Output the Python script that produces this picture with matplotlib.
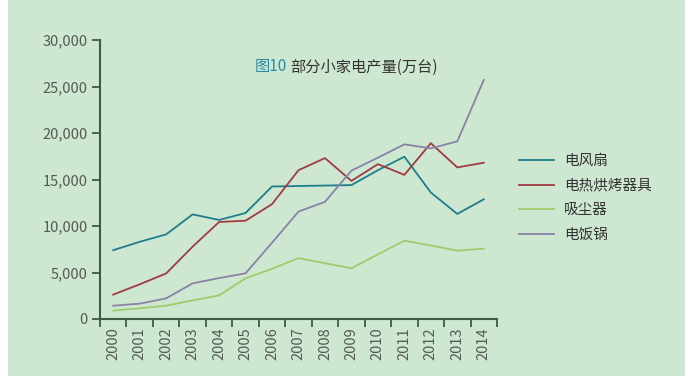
import matplotlib.pyplot as plt
from matplotlib.patches import Rectangle
from matplotlib.ticker import FuncFormatter, FixedLocator

plt.rcParams['font.family'] = ['Noto Sans CJK SC', 'DejaVu Sans']

# Data (万台)
years = [str(y) for y in range(2000, 2015)]
fan = [7400, 8300, 9100, 11250, 10650, 11400, 14250, 14300, 14350, 14400, 16000, 17450, 13600, 11300, 12870]
oven = [2620, 3730, 4900, 7780, 10430, 10570, 12350, 16000, 17300, 14850, 16650, 15500, 18900, 16300, 16800]
vacuum = [900, 1150, 1430, 2000, 2540, 4370, 5400, 6550, 6000, 5450, 6950, 8420, 7900, 7350, 7560]
cooker = [1430, 1650, 2220, 3830, 4400, 4910, 8200, 11550, 12600, 15950, 17350, 18780, 18350, 19100, 25700]

series_names = ['电风扇', '电热烘烤器具', '吸尘器', '电饭锅']
series_colors = ['#1f7d8c', '#a23a42', '#9fcc6b', '#8a82a6']

bg = '#cde7d0'
axis_color = '#3e5a40'
text_color = '#555a55'

fig = plt.figure(figsize=(6.96, 3.8), dpi=100)
fig.patch.set_facecolor('white')
fig.patches.append(Rectangle((8 / 696, 4 / 380), 677 / 696, 376 / 380,
                             transform=fig.transFigure, facecolor=bg,
                             edgecolor='none', zorder=-10))

ax = fig.add_axes([100 / 696, 61 / 380, 397 / 696, 279 / 380])
ax.set_facecolor('none')

x = list(range(len(years)))
for vals, name, col in zip([fan, oven, vacuum, cooker], series_names, series_colors):
    ax.plot(x, vals, color=col, lw=1.3, label=name)

ax.set_xlim(-0.5, len(years) - 0.5)
ax.set_ylim(0, 30000)

# ticks at category boundaries, labels at centres
ax.xaxis.set_major_locator(FixedLocator([i - 0.5 for i in range(len(years) + 1)]))
ax.xaxis.set_minor_locator(FixedLocator(x))
ax.set_xticklabels([''] * (len(years) + 1))
ax.set_xticklabels(years, minor=True, rotation=90)
ax.tick_params(axis='x', which='major', direction='out', length=6, width=1.3, color=axis_color)
ax.tick_params(axis='x', which='minor', length=0, pad=6, labelsize=10.5, labelcolor=text_color)

ax.set_yticks(range(0, 30001, 5000))
ax.yaxis.set_major_formatter(FuncFormatter(lambda v, p: f'{int(v):,}'))
ax.tick_params(axis='y', direction='out', length=6, width=1.3, color=axis_color,
               labelsize=10.5, labelcolor=text_color, pad=3)

for side in ['top', 'right']:
    ax.spines[side].set_visible(False)
for side in ['left', 'bottom']:
    ax.spines[side].set_color(axis_color)
    ax.spines[side].set_linewidth(1.5)

# title
fig.text(255 / 696, 1 - 67 / 380, '图10', color='#2a8aa8', fontsize=11, va='center', ha='left')
fig.text(290 / 696, 1 - 67 / 380, '部分小家电产量(万台)', color='#333333', fontsize=11, va='center', ha='left')

leg = ax.legend(loc='upper left', bbox_to_anchor=(506 / 696, 1 - 141 / 380),
                bbox_transform=fig.transFigure, frameon=False, fontsize=10.5,
                handlelength=2.4, handletextpad=0.7, labelspacing=0.72)
for t in leg.get_texts():
    t.set_color('#333333')

plt.savefig('out.png', dpi=100, facecolor=fig.get_facecolor())
